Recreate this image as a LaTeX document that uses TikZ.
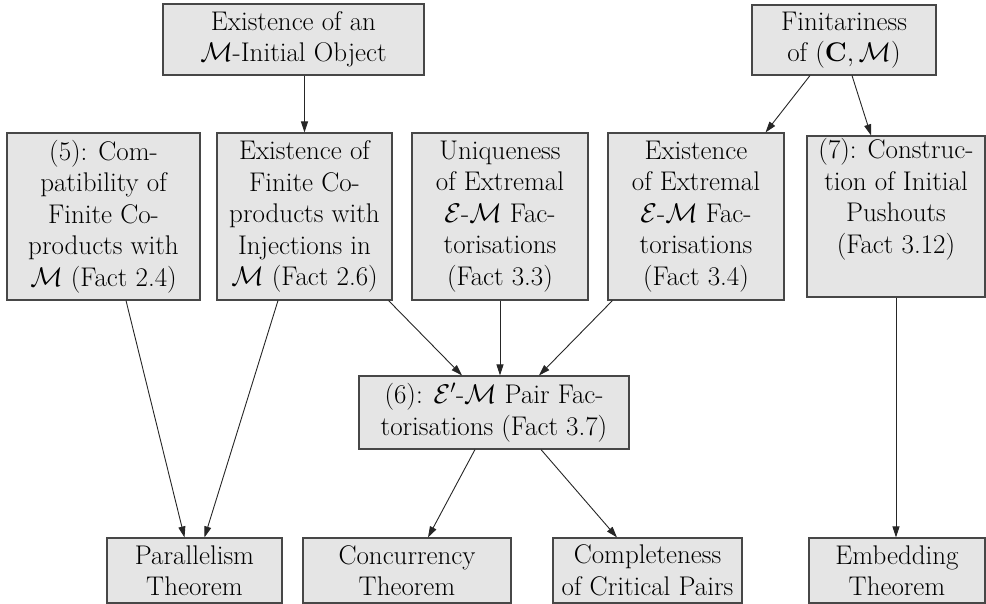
\RequirePackage{fix-cm}
\documentclass[tikz,border=0pt]{standalone}
\usetikzlibrary{arrows.meta,calc}
\begin{document}
\begin{tikzpicture}[x=1pt,y=-1pt,
  box/.style={draw=black!72, fill=gray!20, line width=1.1pt, align=center,
    inner sep=0pt, font=\fontsize{27}{31.5}\selectfont},
  link/.style={line width=0.9pt, draw=black!85, -{Triangle[length=11pt,width=7pt]}}]
\useasboundingbox (0,0) rectangle (986,604);

% top row
\node[box, minimum width=261pt, minimum height=71pt] (initial) at (293.5,39.5)
  {Existence of an\\$\mathcal{M}$-Initial Object};
\node[box, minimum width=184pt, minimum height=70pt] (finit) at (844,40)
  {Finitariness\\of $(\mathbf{C},\mathcal{M})$};

% second row
\node[box, minimum width=193pt, minimum height=167pt] (compat) at (103.5,216.5)
  {(5): Com-\\patibility of\\Finite Co-\\products with\\$\mathcal{M}$ (Fact 2.4)};
\node[box, minimum width=175pt, minimum height=167pt] (coprod) at (304.5,216.5)
  {Existence of\\Finite Co-\\products with\\Injections in\\$\mathcal{M}$ (Fact 2.6)};
\node[box, minimum width=176pt, minimum height=167pt] (uniq) at (500,216.5)
  {Uniqueness\\of Extremal\\$\mathcal{E}$-$\mathcal{M}$ Fac-\\torisations\\(Fact 3.3)};
\node[box, minimum width=176pt, minimum height=167pt] (exist) at (696,216.5)
  {Existence\\of Extremal\\$\mathcal{E}$-$\mathcal{M}$ Fac-\\torisations\\(Fact 3.4)};
\node[box, minimum width=178pt, minimum height=161pt] (pushout) at (896,216.5)
  {(7): Construc-\\tion of Initial\\Pushouts\\(Fact 3.12)\\\strut};

% pair factorisations
\node[box, minimum width=270pt, minimum height=73pt] (pair) at (494,412.5)
  {(6): $\mathcal{E}'$-$\mathcal{M}$ Pair Fac-\\torisations (Fact 3.7)};

% theorems
\node[box, minimum width=175pt, minimum height=65pt] (par) at (194.5,570.5)
  {Parallelism\\Theorem};
\node[box, minimum width=208pt, minimum height=65pt] (conc) at (407,570.5)
  {Concurrency\\Theorem};
\node[box, minimum width=189pt, minimum height=65pt] (crit) at (647.5,570.5)
  {Completeness\\of Critical Pairs};
\node[box, minimum width=176pt, minimum height=65pt] (embed) at (897,570.5)
  {Embedding\\Theorem};

% dependencies
\draw[link] (initial.south -| coprod.north) -- (coprod.north);
\draw[link] ([xshift=-34pt]finit.south) -- ([xshift=-19pt]exist.north east);
\draw[link] ([xshift=8pt]finit.south) -- ([xshift=-25pt]pushout.north);

\draw[link] ([xshift=22.5pt]compat.south) -- ([xshift=-10pt]par.north);
\draw[link] ([xshift=-26.5pt]coprod.south) -- ([xshift=10pt]par.north);

\draw[link] ([xshift=-4pt]coprod.south east) -- ([xshift=-32pt]pair.north);
\draw[link] (uniq.south) -- (uniq.south |- pair.north);
\draw[link] ([xshift=5pt]exist.south west) -- ([xshift=45pt]pair.north);

\draw[link] ([xshift=-19pt]pair.south) -- ([xshift=21pt]conc.north);
\draw[link] ([xshift=47pt]pair.south) -- ([xshift=-30.5pt]crit.north);

\draw[link] (pushout.south) -- (pushout.south |- embed.north);
\end{tikzpicture}
\end{document}
